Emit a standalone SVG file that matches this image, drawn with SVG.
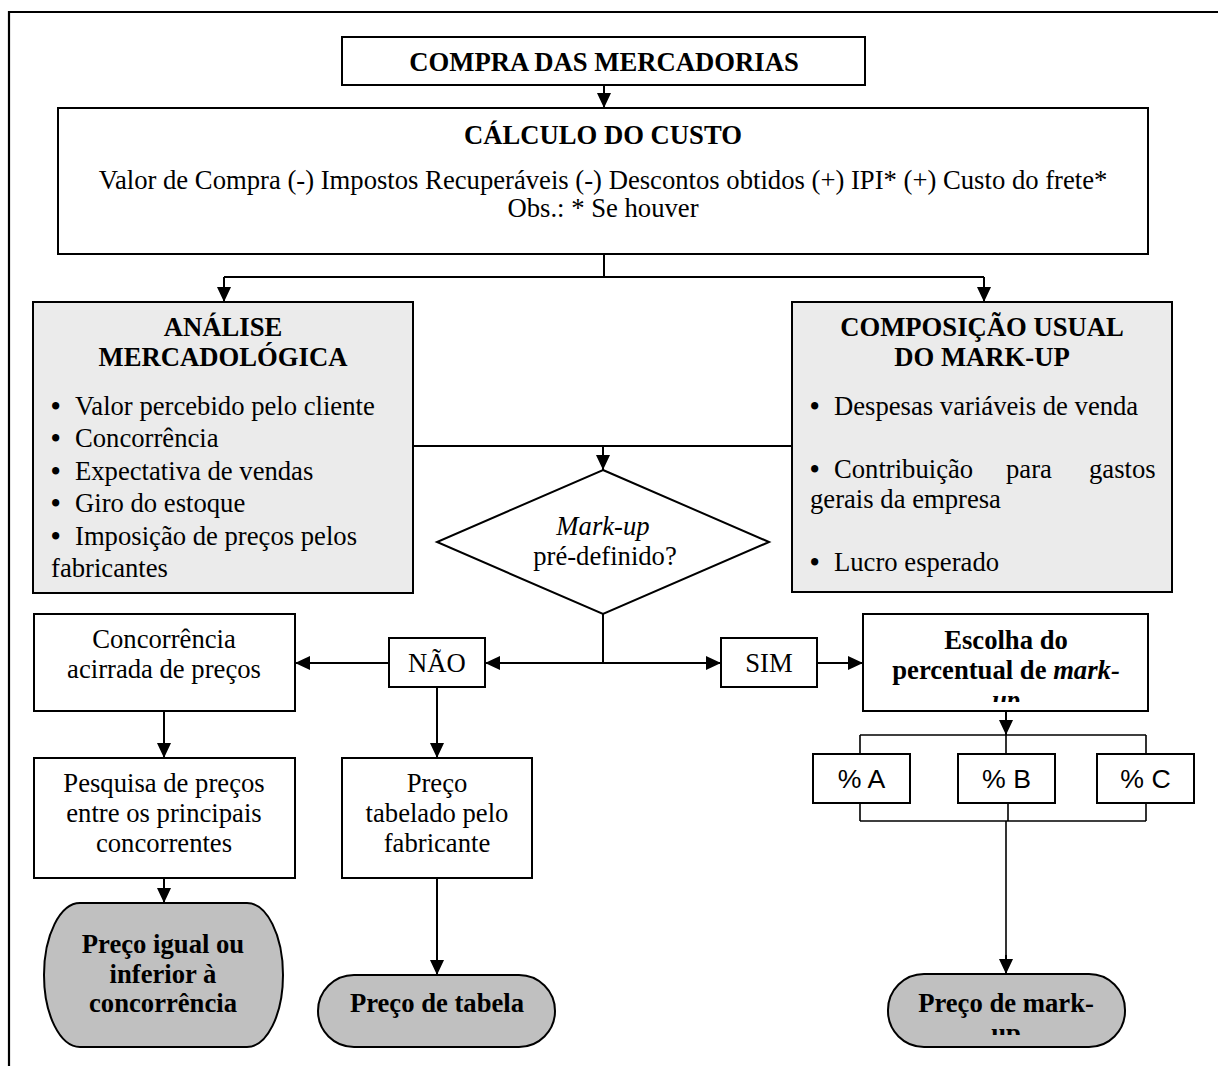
<svg xmlns="http://www.w3.org/2000/svg" width="1218" height="1066" viewBox="0 0 1218 1066">
<style>
.t{font-family:"Liberation Serif","Times New Roman",serif;font-size:26.67px;fill:#000}
.bl{font-weight:bold}
.a{font-family:"Liberation Sans",Arial,sans-serif;font-size:26.67px;fill:#000;text-anchor:middle}
.b{font-weight:bold}
.i{font-style:italic}
.c{text-anchor:middle}
.box{fill:#fff;stroke:#000;stroke-width:2}
.gray{fill:#ebebeb;stroke:#000;stroke-width:2}
.term{fill:#c0c0c0;stroke:#000;stroke-width:2}
.conn{fill:none;stroke:#000;stroke-width:2}
.thin{fill:none;stroke:#000;stroke-width:1.6}
</style>
<defs>
<marker id="arr" markerUnits="userSpaceOnUse" markerWidth="16" markerHeight="16" refX="15" refY="7" orient="auto">
<path d="M0,0 L15,7 L0,14 Z" fill="#000"/>
</marker>
<clipPath id="clipEsc"><rect x="863" y="614" width="285" height="88"/></clipPath>
<clipPath id="clipT3"><rect x="880" y="970" width="250" height="65"/></clipPath>
</defs>
<rect width="1218" height="1066" fill="#fff"/>
<path id="frame" d="M9,1066 V12 H1218" fill="none" stroke="#000" stroke-width="2.2"/>

<g id="connectors">
<path class="conn" d="M604,85 V108" marker-end="url(#arr)"/>
<path class="conn" d="M604,254 V277 M224,277 H984"/>
<path class="conn" d="M224,277 V302" marker-end="url(#arr)"/>
<path class="conn" d="M984,277 V302" marker-end="url(#arr)"/>
<path class="conn" d="M413,446 H792"/>
<path class="conn" d="M603,446 V470" marker-end="url(#arr)"/>
<path class="conn" d="M603,614 V663"/>
<path class="conn" d="M603,663 H485" marker-end="url(#arr)"/>
<path class="conn" d="M603,663 H721" marker-end="url(#arr)"/>
<path class="conn" d="M389,663 H295" marker-end="url(#arr)"/>
<path class="conn" d="M817,663 H863" marker-end="url(#arr)"/>
<path class="conn" d="M164,711 V758" marker-end="url(#arr)"/>
<path class="conn" d="M164,878 V903" marker-end="url(#arr)"/>
<path class="conn" d="M437,687 V758" marker-end="url(#arr)"/>
<path class="conn" d="M437,878 V975" marker-end="url(#arr)"/>
<path class="conn" d="M1006,711 V735" marker-end="url(#arr)"/>
<path class="thin" d="M860,735 H1146 M860,735 V754 M1006,735 V754 M1146,735 V754"/>
<path class="thin" d="M860,803 V821 M1008,803 V821 M1146,803 V821 M860,821 H1146"/>
<path class="thin" d="M1006,821 V959"/>
<path class="conn" d="M1006,955 V974" marker-end="url(#arr)"/>
</g>

<g id="compra">
<rect class="box" x="342" y="37" width="523" height="48"/>
<text class="t b c" x="604" y="71">COMPRA DAS MERCADORIAS</text>
</g>

<g id="calculo">
<rect class="box" x="58" y="108" width="1090" height="146"/>
<text class="t b c" x="603" y="144">CÁLCULO DO CUSTO</text>
<text class="t c" x="603" y="189">Valor de Compra (-) Impostos Recuperáveis (-) Descontos obtidos (+) IPI* (+) Custo do frete*</text>
<text class="t c" x="603" y="217">Obs.: * Se houver</text>
</g>

<g id="analise">
<rect class="gray" x="33" y="302" width="380" height="291"/>
<text class="t b c" x="223" y="336">ANÁLISE</text>
<text class="t b c" x="223" y="366">MERCADOLÓGICA</text>
<text class="t" x="51" y="415"><tspan class="bl">•</tspan><tspan x="75">Valor percebido pelo cliente</tspan></text>
<text class="t" x="51" y="447"><tspan class="bl">•</tspan><tspan x="75">Concorrência</tspan></text>
<text class="t" x="51" y="480"><tspan class="bl">•</tspan><tspan x="75">Expectativa de vendas</tspan></text>
<text class="t" x="51" y="512"><tspan class="bl">•</tspan><tspan x="75">Giro do estoque</tspan></text>
<text class="t" x="51" y="545"><tspan class="bl">•</tspan><tspan x="75">Imposição de preços pelos</tspan></text>
<text class="t" x="51" y="577">fabricantes</text>
</g>

<g id="composicao">
<rect class="gray" x="792" y="302" width="380" height="290"/>
<text class="t b c" x="982" y="336">COMPOSIÇÃO USUAL</text>
<text class="t b c" x="982" y="366">DO MARK-UP</text>
<text class="t" x="810" y="415"><tspan class="bl">•</tspan><tspan x="834">Despesas variáveis de venda</tspan></text>
<text class="t" x="810" y="478"><tspan class="bl">•</tspan><tspan x="834">Contribuição</tspan><tspan x="1006">para</tspan><tspan x="1089">gastos</tspan></text>
<text class="t" x="810" y="508">gerais da empresa</text>
<text class="t" x="810" y="571"><tspan class="bl">•</tspan><tspan x="834">Lucro esperado</tspan></text>
</g>

<g id="decisao">
<polygon class="box" points="603,470 769,542 603,614 437,542"/>
<text class="t i c" x="603" y="535">Mark-up</text>
<text class="t c" x="605" y="565">pré-definido?</text>
</g>

<g id="nao">
<rect class="box" x="389" y="638" width="96" height="49"/>
<text class="t c" x="437" y="672">NÃO</text>
</g>

<g id="sim">
<rect class="box" x="721" y="638" width="96" height="49"/>
<text class="t c" x="769" y="672">SIM</text>
</g>

<g id="concorrencia">
<rect class="box" x="34" y="614" width="261" height="97"/>
<text class="t c" x="164" y="648">Concorrência</text>
<text class="t c" x="164" y="678">acirrada de preços</text>
</g>

<g id="pesquisa">
<rect class="box" x="34" y="758" width="261" height="120"/>
<text class="t c" x="164" y="792">Pesquisa de preços</text>
<text class="t c" x="164" y="822">entre os principais</text>
<text class="t c" x="164" y="852">concorrentes</text>
</g>

<g id="tabelado">
<rect class="box" x="342" y="758" width="190" height="120"/>
<text class="t c" x="437" y="792">Preço</text>
<text class="t c" x="437" y="822">tabelado pelo</text>
<text class="t c" x="437" y="852">fabricante</text>
</g>

<g id="escolha">
<rect class="box" x="863" y="614" width="285" height="97"/>
<g clip-path="url(#clipEsc)">
<text class="t b c" x="1006" y="649">Escolha do</text>
<text class="t b c" x="1006" y="679">percentual de <tspan class="i">mark-</tspan></text>
<text class="t b i c" x="1006" y="709">up</text>
</g>
</g>

<g id="pctA">
<rect class="box" x="813" y="754" width="97" height="49"/>
<text class="a" x="861.5" y="788">% A</text>
</g>
<g id="pctB">
<rect class="box" x="958" y="754" width="97" height="49"/>
<text class="a" x="1006.5" y="788">% B</text>
</g>
<g id="pctC">
<rect class="box" x="1097" y="754" width="97" height="49"/>
<text class="a" x="1145.5" y="788">% C</text>
</g>

<g id="precoIgual">
<rect class="term" x="44" y="903" width="239" height="144" rx="36" ry="72"/>
<text class="t b c" x="163" y="953">Preço igual ou</text>
<text class="t b c" x="163" y="983">inferior à</text>
<text class="t b c" x="163" y="1012">concorrência</text>
</g>

<g id="precoTabela">
<rect class="term" x="318" y="975" width="237" height="72" rx="36" ry="36"/>
<text class="t b c" x="437" y="1012">Preço de tabela</text>
</g>

<g id="precoMarkup">
<rect class="term" x="888" y="974" width="237" height="73" rx="36" ry="36"/>
<g clip-path="url(#clipT3)">
<text class="t b c" x="1006" y="1012">Preço de mark-</text>
<text class="t b c" x="1006" y="1042">up</text>
</g>
</g>
</svg>
